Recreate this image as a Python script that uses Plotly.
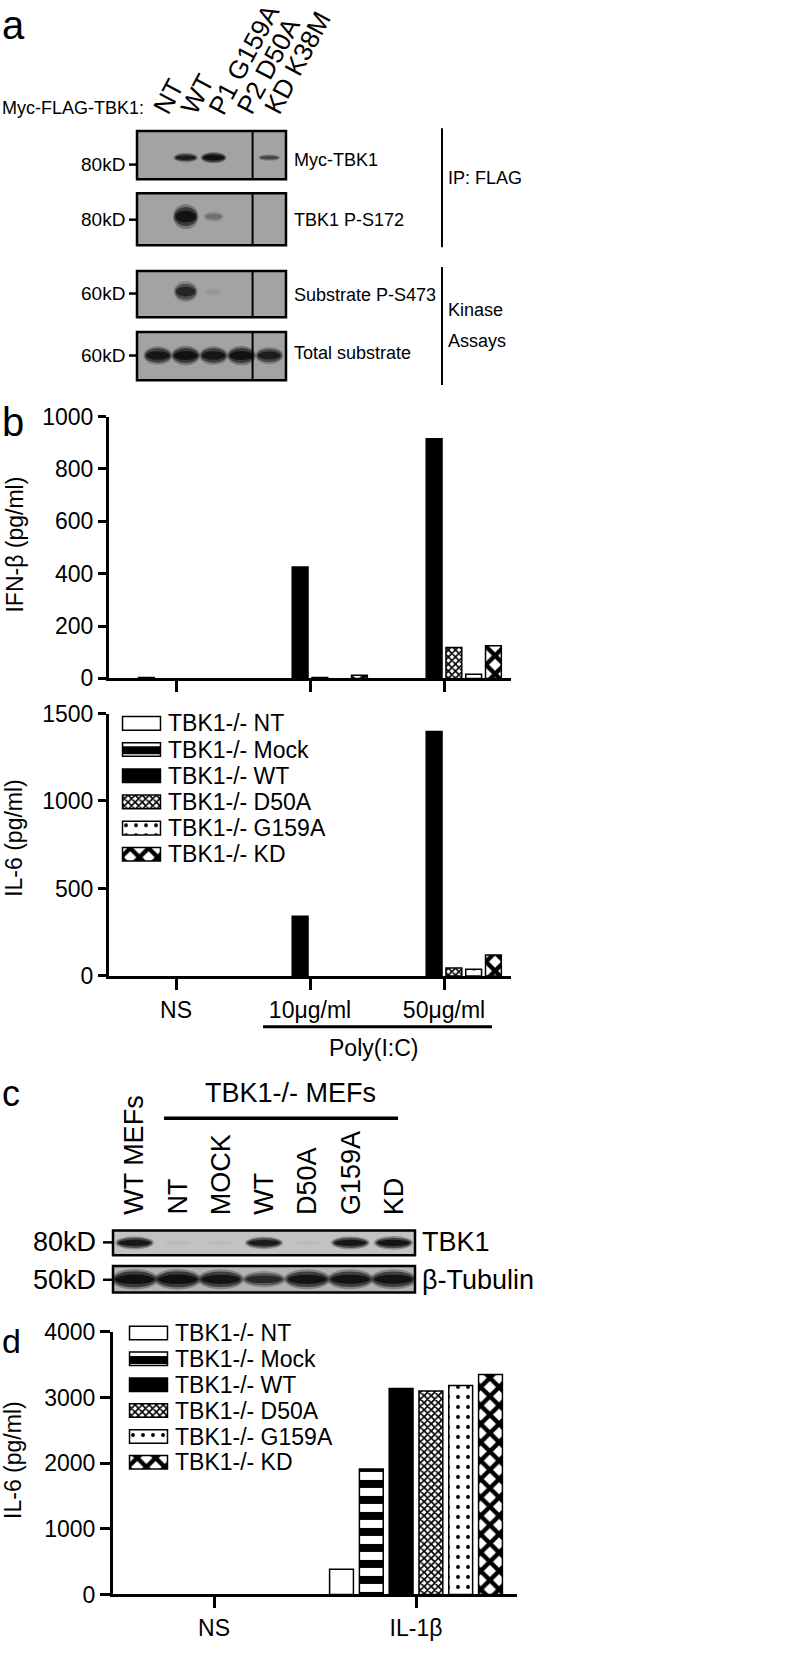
import plotly.graph_objects as go

W, H = 797, 1655
SANS = "Liberation Sans, Arial, Helvetica, sans-serif"

# ---------------- data ----------------
a_lanes = ["NT", "WT", "P1 G159A", "P2 D50A", "KD K38M"]
a_blots = ["Myc-TBK1", "TBK1 P-S172", "Substrate P-S473", "Total substrate"]
a_mw = ["80kD", "80kD", "60kD", "60kD"]
a_myc = [0.0, 0.8, 1.0, 0.0, 0.45]
a_ps172 = [0.0, 0.95, 0.2, 0.0, 0.0]
a_ps473 = [0.0, 0.7, 0.04, 0.0, 0.0]
a_total = [0.9, 0.95, 0.9, 0.95, 0.8]

series = ["TBK1-/- NT", "TBK1-/- Mock", "TBK1-/- WT",
          "TBK1-/- D50A", "TBK1-/- G159A", "TBK1-/- KD"]
b_cats = ["NS", "10μg/ml", "50μg/ml"]
b_ifn = [[0, 0, 0], [3, 0, 0], [0, 425, 915], [0, 3, 118], [0, 0, 16], [0, 12, 125]]
b_il6 = [[0, 0, 0], [0, 0, 0], [0, 341, 1397], [0, 0, 45], [0, 0, 38], [0, 0, 120]]
b_ifn_ticks = [0, 200, 400, 600, 800, 1000]
b_il6_ticks = [0, 500, 1000, 1500]

c_lanes = ["WT MEFs", "NT", "MOCK", "WT", "D50A", "G159A", "KD"]
c_blots = ["TBK1", "β-Tubulin"]
c_mw = ["80kD", "50kD"]
c_tbk1 = [0.9, 0.03, 0.03, 0.85, 0.03, 0.9, 0.95]
c_tub = [1.0, 1.0, 0.95, 0.7, 0.95, 0.95, 0.95]

d_cats = ["NS", "IL-1β"]
d_il6 = [[0, 385], [0, 1910], [0, 3140], [0, 3100], [0, 3185], [0, 3350]]
d_ticks = [0, 1000, 2000, 3000, 4000]

# ---------------- styles ----------------
S_COLOR = ["white", "white", "black", "white", "white", "white"]
S_SHAPE = ["", "-", "", "x", ".", "x"]
S_SIZE = [8, 16, 8, 5, 10, 13]
S_SOLID = [0.3, 0.5, 0.3, 0.55, 0.12, 0.55]
LAYERS = [(1.1, 1.3, 0.3), (1.0, 1.0, 0.6), (0.9, 0.6, 0.9)]
A_FONT = 18


def xd(a, b):
    return [a / W, b / W]


def yd(a, b):
    return [1 - b / H, 1 - a / H]


def px(p):
    return p / W


def py(p):
    return 1 - p / H


def names(k):
    s = "" if k == 1 else str(k)
    return "xaxis" + s, "yaxis" + s, "x" + s, "y" + s


def nz(vals):
    return [v if v else None for v in vals]


fig = go.Figure()
layout = dict(width=W, height=H, margin=dict(l=0, r=0, t=0, b=0),
              paper_bgcolor="white", plot_bgcolor="white", showlegend=False,
              barmode="group", bargap=0.115, bargroupgap=0.2,
              font=dict(family=SANS, size=23, color="black"))
shapes = []
annotations = []


def ann(text, x, y, size=23, xanchor="center", yanchor="middle",
        xref="paper", yref="paper", **kw):
    annotations.append(dict(text=text, x=x, y=y, xref=xref, yref=yref, showarrow=False,
                            xanchor=xanchor, yanchor=yanchor,
                            font=dict(family=SANS, size=size, color="black"), **kw))


def hline(x0, x1, y, w=3):
    shapes.append(dict(type="line", xref="paper", yref="paper", x0=px(x0), x1=px(x1),
                       y0=py(y), y1=py(y), line=dict(color="black", width=w)))


def vline(x, y0, y1, w=2):
    shapes.append(dict(type="line", xref="paper", yref="paper", x0=px(x), x1=px(x),
                       y0=py(y0), y1=py(y1), line=dict(color="black", width=w)))


def pattern(j):
    return dict(shape=S_SHAPE[j], fgcolor="black", bgcolor=S_COLOR[j], size=S_SIZE[j],
                solidity=S_SOLID[j], fillmode="replace", fgopacity=1)


def strip(k, xdom, ydom, xrange, bg, intens, band_y, band_hh, band_hw, divider=None):
    xa, ya, xr, yr = names(k)
    layout[xa] = dict(domain=xdom, range=xrange, visible=False, anchor=yr, fixedrange=True)
    layout[ya] = dict(domain=ydom, range=[0, 1], visible=False, anchor=xr, fixedrange=True)
    fig.add_trace(go.Scatter(x=list(range(len(intens))), y=[band_y] * len(intens),
                             mode="markers", marker=dict(opacity=0), xaxis=xr, yaxis=yr,
                             hoverinfo="skip"))
    shapes.append(dict(type="rect", xref=xr + " domain", yref=yr + " domain", x0=0, x1=1,
                       y0=0, y1=1, fillcolor=bg, line=dict(width=0)))
    for i, v in enumerate(intens):
        if v <= 0:
            continue
        for ws, hs, al in LAYERS:
            hw = band_hw * (0.75 + 0.25 * v) * ws
            hh = band_hh * (0.3 + 0.7 * v) * hs
            shapes.append(dict(type="circle", xref=xr, yref=yr, x0=i - hw, x1=i + hw,
                               y0=band_y - hh, y1=band_y + hh,
                               fillcolor="rgba(12,12,12,%.3f)" % (al * v), line=dict(width=0)))
    if divider is not None:
        shapes.append(dict(type="line", xref=xr, yref=yr + " domain", x0=divider, x1=divider,
                           y0=0, y1=1, line=dict(color="black", width=2)))
    shapes.append(dict(type="rect", xref=xr + " domain", yref=yr + " domain", x0=0, x1=1,
                       y0=0, y1=1, fillcolor="rgba(0,0,0,0)", line=dict(color="black", width=2.5)))


# ---------------- panel a ----------------
A_PX = [(120, 169), (183, 236), (262, 309), (324, 373)]
A_Y = [0.45, 0.55, 0.55, 0.51]
A_HH = [0.09, 0.19, 0.22, 0.16]
A_HW = [0.42, 0.42, 0.42, 0.48]
A_MWY = [154, 210, 285, 348]
A_LBLY = [149, 210, 287, 345]
for k, vals in enumerate([a_myc, a_ps172, a_ps473, a_total]):
    strip(k + 1, xd(137, 286), yd(*A_PX[k]), [-0.75, 4.6], "#a3a3a3", vals,
          A_Y[k], A_HH[k], A_HW[k], divider=3.4)
    ann(a_mw[k], px(127), py(A_MWY[k]), size=A_FONT + 1, xanchor="right")
    hline(129, 137, A_MWY[k], w=2.5)
    ann(a_blots[k], px(292), py(A_LBLY[k]), size=A_FONT, xanchor="left")

for i, lab in enumerate(a_lanes):
    ann(lab, i, py(110.6), size=26, xref="x", xanchor="left", yanchor="bottom",
        textangle=-62, xshift=-14)
ann("Myc-FLAG-TBK1:", 0, py(97), size=A_FONT, xanchor="left")
ann("a", 0, py(12), size=40, xanchor="left")
vline(442, 117, 238)
vline(442, 258, 378)
ann("IP: FLAG", px(446), py(168), size=A_FONT, xanchor="left")
ann("Kinase", px(446), py(302), size=A_FONT, xanchor="left")
ann("Assays", px(446), py(333), size=A_FONT, xanchor="left")


# ---------------- bar charts ----------------
def chart(k, xdom, ydom, cats, data, yrange, yticks, showx, xticklen, yticklen):
    xa, ya, xr, yr = names(k)
    layout[xa] = dict(domain=xdom, anchor=yr, type="category", range=[-0.5, len(cats) - 0.5],
                      showline=True, linecolor="black", linewidth=3, ticks="outside",
                      ticklen=xticklen, tickwidth=3, tickcolor="black", showticklabels=showx,
                      tickfont=dict(size=23, family=SANS), showgrid=False, zeroline=False,
                      fixedrange=True)
    layout[ya] = dict(domain=ydom, anchor=xr, range=yrange, tickvals=yticks, showline=True,
                      linecolor="black", linewidth=3, ticks="outside", ticklen=yticklen,
                      tickwidth=3, tickcolor="black", tickfont=dict(size=23, family=SANS),
                      showgrid=False, zeroline=False, fixedrange=True)
    for j, name in enumerate(series):
        fig.add_trace(go.Bar(
            x=cats, y=nz(data[j]), name=name, xaxis=xr, yaxis=yr,
            marker=dict(color=S_COLOR[j], line=dict(color="black", width=1.5),
                        pattern=pattern(j))))


def legend_axis(k, xdom, ydom):
    xa, ya, xr, yr = names(k)
    layout[xa] = dict(domain=xdom, range=[-0.04, 1.04], visible=False, anchor=yr, fixedrange=True)
    layout[ya] = dict(domain=ydom, anchor=xr, type="category", autorange="reversed",
                      categoryorder="array", categoryarray=series,
                      side="right", showline=False, ticks="", showgrid=False, zeroline=False,
                      tickmode="array", tickvals=series, ticktext=series,
                      tickfont=dict(size=23, family=SANS), ticklabelstandoff=5,
                      fixedrange=True)
    for j, name in enumerate(series):
        fig.add_trace(go.Bar(
            x=[1], y=[name], orientation="h", width=0.52, offsetgroup="legend",
            xaxis=xr, yaxis=yr, hoverinfo="skip",
            marker=dict(color=S_COLOR[j], line=dict(color="black", width=1.5),
                        pattern=pattern(j))))


# panel b
chart(5, xd(109, 511), yd(410, 676), b_cats, b_ifn, [0, 1000], b_ifn_ticks, False, 11, 8)
chart(6, xd(109, 511), yd(711.7, 978.3), b_cats, b_il6, [0, 1500], b_il6_ticks, True, 11, 8)
legend_axis(7, xd(121, 162), yd(708.4, 868))
ann("b", 0, py(416), size=40, xanchor="left")
ann("IFN-β (pg/ml)", px(15), py(540), size=23, textangle=-90)
ann("IL-6 (pg/ml)", px(14), py(838), size=23, textangle=-90)
hline(263, 492, 1030, w=3)
ann("Poly(I:C)", px(373), py(1052), size=23)

# ---------------- panel c ----------------
C_PX = [(1237, 1262), (1273, 1300)]
C_BG = ["#c2c2c2", "#b3b3b3"]
C_HH = [0.22, 0.3]
C_HW = [0.42, 0.5]
C_MWY = [1249, 1287]
for k, vals in enumerate([c_tbk1, c_tub]):
    strip(8 + k, xd(113, 415), yd(*C_PX[k]), [-0.5, 6.5], C_BG[k], vals, 0.5, C_HH[k], C_HW[k])
    ann(c_mw[k], px(98), py(C_MWY[k]), size=27, xanchor="right")
    hline(103, 113, C_MWY[k], w=2.5)
    ann(c_blots[k], px(420), py(C_MWY[k]), size=27, xanchor="left")
for i, lab in enumerate(c_lanes):
    ann(lab, i, py(1223), size=27, xref="x8", xanchor="center", yanchor="bottom", textangle=-90)
ann("c", 0, py(1098), size=36, xanchor="left")
ann("TBK1-/- MEFs", px(290), py(1097), size=27)
hline(164, 398, 1123, w=3.5)

# ---------------- panel d ----------------
chart(10, xd(113, 517), yd(1340, 1606.7), d_cats, d_il6, [0, 4000], d_ticks, True, 11, 10)
legend_axis(11, xd(128, 169), yd(1327.9, 1485.6))
ann("d", 0, py(1349), size=34, xanchor="left")
ann("IL-6 (pg/ml)", px(13), py(1470), size=23, textangle=-90)

layout["shapes"] = shapes
layout["annotations"] = annotations
fig.update_layout(**layout)

POST = """
document.documentElement.style.margin = '0';
document.documentElement.style.padding = '0';
document.body.style.margin = '0';
document.body.style.padding = '0';
document.body.style.overflow = 'hidden';
"""

fig.write_html("out.html", config=dict(displayModeBar=False, staticPlot=True),
               post_script=POST)
